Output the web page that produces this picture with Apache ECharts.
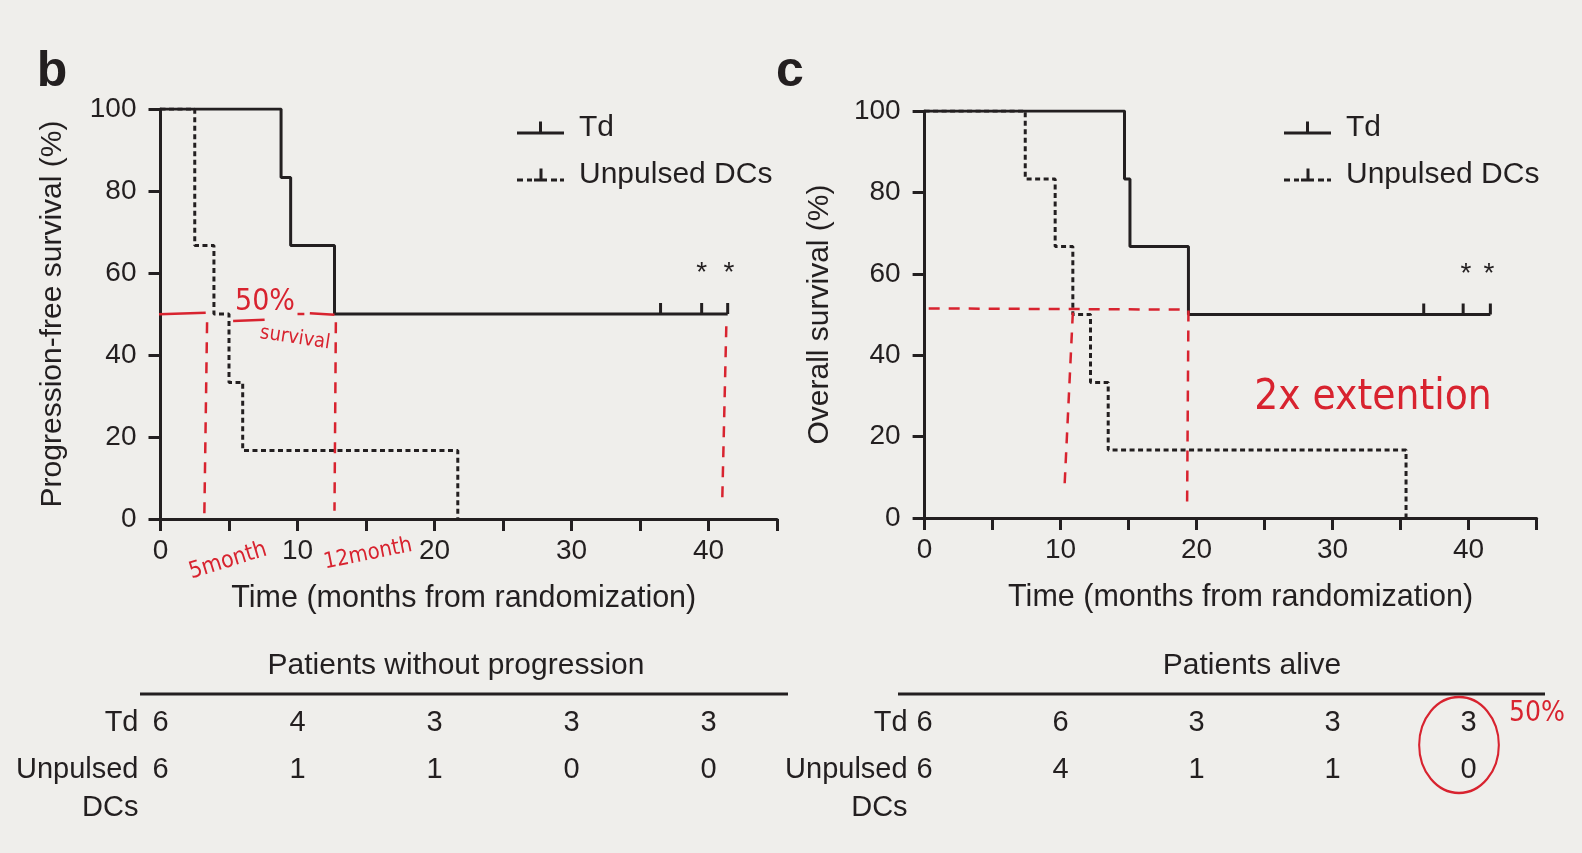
<!DOCTYPE html>
<html>
<head>
<meta charset="utf-8">
<script src="https://cdn.jsdelivr.net/npm/echarts@6/dist/echarts.min.js"></script>
<style>
  html, body { margin: 0; padding: 0; background: #efeeeb; }
  #chart { width: 1582px; height: 853px; }
</style>
</head>
<body>
<div id="chart"></div>
<script>
// step curves: month of each step and survival (%) after it
const pfsTdTime = [0, 8.8, 9.5, 12.7, 41.4]
const pfsTdSurv = [100, 83.3, 66.7, 50, 50]
const pfsTdCensor = [36.5, 39.5, 41.4]
const pfsDcTime = [0, 2.5, 3.9, 5.0, 6.0, 21.7]
const pfsDcSurv = [100, 66.7, 50, 33.3, 16.7, 0]

const osTdTime = [0, 14.7, 15.1, 19.4, 41.6]
const osTdSurv = [100, 83.3, 66.7, 50, 50]
const osTdCensor = [36.7, 39.6, 41.6]
const osDcTime = [0, 7.4, 9.6, 10.9, 12.2, 13.5, 35.4]
const osDcSurv = [100, 83.3, 66.7, 50, 33.3, 16.7, 0]

// asterisks over the last censored Td patients
const pfsStars = [39.5, 41.5]
const osStars = [39.8, 41.5]
const starLevel = 60

// numbers at risk
const riskTimes = [0, 10, 20, 30, 40]
const riskGroups = ['Unpulsed DCs', 'Td']
const pfsRiskTd = [6, 4, 3, 3, 3]
const pfsRiskDc = [6, 1, 1, 0, 0]
const osRiskTd = [6, 6, 3, 3, 3]
const osRiskDc = [6, 4, 1, 1, 0]

// red hand-drawn guides (month, %)
const pfsRedLines = [
  { pts: [[-1.8, 49.8], [3.3, 50.3]], dash: false },
  { pts: [[5.3, 48.3], [7.6, 48.6]], dash: false },
  { pts: [[10.0, 50], [10.5, 50]], dash: false },
  { pts: [[10.9, 50.2], [12.7, 49.8]], dash: false },
  { pts: [[3.4, 48], [3.2, 1]], dash: true },
  { pts: [[12.8, 48], [12.7, 2]], dash: true },
  { pts: [[41.3, 47], [41.0, 4]], dash: true }
]
const osRedLines = [
  { pts: [[0.3, 51.5], [18.9, 51.2]], dash: true },
  { pts: [[10.9, 50.5], [10.3, 8.5]], dash: true },
  { pts: [[19.4, 51], [19.3, 2.5]], dash: true }
]

const ink = '#231f20'
const red = '#d8232f'
const font = 'Liberation Sans'
const hand = 'DejaVu Sans Condensed, DejaVu Sans'

const pairs = (xs, ys) => xs.map((x, i) => [x, ys[i]])

function kmSeries(name, idx, xs, ys, dashed) {
  return {
    name,
    type: 'line',
    step: 'end',
    xAxisIndex: idx,
    yAxisIndex: idx,
    data: pairs(xs, ys),
    symbol: 'none',
    showSymbol: false,
    color: ink,
    lineStyle: { color: ink, width: dashed ? 3 : 3, type: dashed ? [5, 3.5] : 'solid', opacity: 1 },
    silent: true,
    z: 3
  }
}

function censorSeries(idx, xs, level) {
  return {
    type: 'scatter',
    xAxisIndex: idx,
    yAxisIndex: idx,
    data: xs.map(x => [x, level]),
    symbol: 'rect',
    symbolSize: [3, 11],
    symbolOffset: [0, -5.5],
    itemStyle: { color: ink, opacity: 1 },
    silent: true,
    z: 3
  }
}

// text-only marks sitting on data positions
function labelSeries(idx, data, fmt, size) {
  return {
    type: 'scatter',
    xAxisIndex: idx,
    yAxisIndex: idx,
    data,
    symbolSize: 1,
    itemStyle: { color: 'rgba(0,0,0,0)', opacity: 1 },
    label: { show: true, position: 'inside', formatter: fmt, fontSize: size, color: ink, opacity: 1, fontFamily: font, textBorderWidth: 0 },
    silent: true,
    z: 4
  }
}

function starSeries(idx, xs) {
  return labelSeries(idx, xs.map(x => [x, starLevel]), '*', 28)
}

function riskSeries(idx, td, dc) {
  const data = []
  riskTimes.forEach((t, i) => {
    data.push([t, 'Td', td[i]])
    data.push([t, 'Unpulsed DCs', dc[i]])
  })
  return labelSeries(idx, data, p => p.value[2], 29)
}

function redSeries(idx, lines) {
  return lines.map(l => ({
    type: 'line',
    xAxisIndex: idx,
    yAxisIndex: idx,
    data: l.pts,
    symbol: 'none',
    showSymbol: false,
    clip: false,
    lineStyle: { color: red, width: 2.5, type: l.dash ? [11, 9] : 'solid' },
    silent: true,
    z: 5
  }))
}

function plotX(idx) {
  return {
    gridIndex: idx,
    type: 'value',
    min: 0,
    max: 45,
    interval: 5,
    name: 'Time (months from randomization)',
    nameLocation: 'middle',
    nameGap: 64,
    nameTextStyle: { fontSize: 30.5, color: ink, fontFamily: font, padding: idx === 0 ? [0, 10, 0, 0] : [0, 0, 0, 20] },
    axisLine: { show: true, onZero: false, lineStyle: { color: ink, width: 3 } },
    axisTick: { show: true, length: 12, lineStyle: { color: ink, width: 3 } },
    axisLabel: { fontSize: 28, color: ink, fontFamily: font, margin: 18, formatter: v => (v % 10 === 0 ? v : '') },
    splitLine: { show: false }
  }
}

function plotY(idx, name, gap) {
  return {
    gridIndex: idx,
    type: 'value',
    min: 0,
    max: 100,
    interval: 20,
    name,
    nameLocation: 'middle',
    nameGap: gap,
    nameTextStyle: { fontSize: 30, color: ink, fontFamily: font },
    axisLine: { show: true, onZero: false, lineStyle: { color: ink, width: 3 } },
    axisTick: { show: true, length: 12, lineStyle: { color: ink, width: 3 } },
    axisLabel: { fontSize: 28, color: ink, fontFamily: font, margin: 24 },
    splitLine: { show: false }
  }
}

function tableX(idx) {
  return { gridIndex: idx, type: 'value', min: 0, max: 45, show: false }
}

function tableY(idx, margin) {
  return {
    gridIndex: idx,
    type: 'category',
    data: riskGroups,
    axisLine: { show: false },
    axisTick: { show: false },
    splitLine: { show: false },
    axisLabel: {
      interval: 0,
      hideOverlap: false,
      fontSize: 29,
      color: ink,
      fontFamily: font,
      margin,
      lineHeight: 38,
      formatter: v => (v === 'Unpulsed DCs' ? ' \nUnpulsed\nDCs' : v)
    }
  }
}

const iconSolid = 'path://M0,10H47V13H0Z M22,0H25V10H22Z'
const iconDash = 'path://M0,10H6V13H0Z M10,10H15V13H10Z M17,10H30V13H17Z M22.5,0H25.5V10H22.5Z M34,10H40V13H34Z M43,10H47V13H43Z'

function legendAt(left) {
  return {
    orient: 'vertical',
    left,
    top: 108,
    itemWidth: 47,
    itemHeight: 13,
    itemGap: 17,
    selectedMode: false,
    itemStyle: { borderWidth: 0 },
    textStyle: { fontSize: 30, color: ink, fontFamily: font, padding: [0, 0, 0, 10] },
    data: [
      { name: 'Td', icon: iconSolid },
      { name: 'Unpulsed DCs', icon: iconDash }
    ]
  }
}

function txt(text, x, y, size, o = {}) {
  return {
    type: 'text',
    x,
    y,
    rotation: o.rot || 0,
    silent: true,
    style: {
      text,
      fontSize: size,
      fontFamily: o.family || font,
      fontWeight: o.bold ? 'bold' : 'normal',
      fill: o.color || ink,
      align: 'center',
      verticalAlign: 'middle',
      textAlign: 'center',
      textVerticalAlign: 'middle'
    }
  }
}

function rule(x1, x2, y) {
  return { type: 'line', silent: true, shape: { x1, y1: y, x2, y2: y }, style: { stroke: ink, lineWidth: 3 } }
}

const chart = echarts.init(document.getElementById('chart'))
const option = {
  backgroundColor: '#efeeeb',
  animation: false,
  textStyle: { fontFamily: font, color: ink },
  grid: [
    { left: 160.5, top: 109, width: 616.5, height: 410, outerBoundsMode: 'none' },
    { left: 924.6, top: 111, width: 612, height: 407, outerBoundsMode: 'none' },
    { left: 160.5, top: 699.5, width: 616.5, height: 94, outerBoundsMode: 'none' },
    { left: 924.6, top: 699.5, width: 612, height: 94, outerBoundsMode: 'none' }
  ],
  xAxis: [plotX(0), plotX(1), tableX(2), tableX(3)],
  yAxis: [
    plotY(0, 'Progression-free survival (%)', 93),
    plotY(1, 'Overall survival (%)', 90),
    tableY(2, 22),
    tableY(3, 17)
  ],
  legend: [legendAt(512), legendAt(1279)],
  series: [
    kmSeries('Td', 0, pfsTdTime, pfsTdSurv, false),
    kmSeries('Unpulsed DCs', 0, pfsDcTime, pfsDcSurv, true),
    censorSeries(0, pfsTdCensor, pfsTdSurv[pfsTdSurv.length - 1]),
    starSeries(0, pfsStars),
    kmSeries('Td', 1, osTdTime, osTdSurv, false),
    kmSeries('Unpulsed DCs', 1, osDcTime, osDcSurv, true),
    censorSeries(1, osTdCensor, osTdSurv[osTdSurv.length - 1]),
    starSeries(1, osStars),
    riskSeries(2, pfsRiskTd, pfsRiskDc),
    riskSeries(3, osRiskTd, osRiskDc),
    ...redSeries(0, pfsRedLines),
    ...redSeries(1, osRedLines)
  ],
  graphic: [
    txt('b', 52, 72, 50, { bold: true }),
    txt('c', 790, 72, 50, { bold: true }),
    txt('Patients without progression', 456, 666, 30),
    rule(140, 788, 694),
    txt('Patients alive', 1252, 666, 30),
    rule(898, 1545, 694),
    // handwritten notes
    txt('50%', 265, 302, 30, { family: hand, color: red }),
    txt('survival', 295, 338, 20, { family: hand, color: red, rot: -0.15 }),
    txt('5month', 228, 561, 23, { family: hand, color: red, rot: 0.3 }),
    txt('12month', 368, 554, 22, { family: hand, color: red, rot: 0.2 }),
    txt('2x extention', 1373, 398, 42, { family: hand, color: red }),
    txt('50%', 1537, 714, 28, { family: hand, color: red }),
    {
      type: 'circle',
      silent: true,
      x: 1459,
      y: 745,
      scaleX: 0.83,
      shape: { cx: 0, cy: 0, r: 48 },
      style: { fill: 'none', stroke: red, lineWidth: 2.5, strokeNoScale: true }
    }
  ]
}
option && chart.setOption(option)
</script>
</body>
</html>
